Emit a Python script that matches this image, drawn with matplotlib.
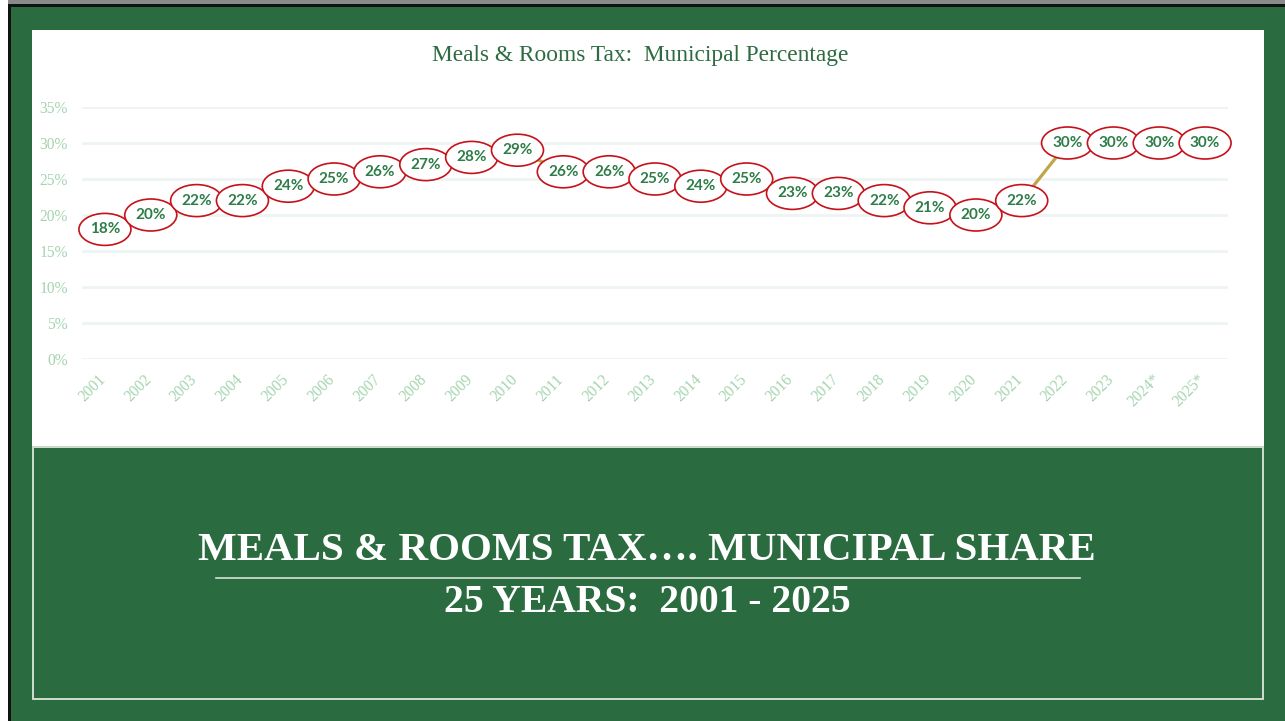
import matplotlib
matplotlib.use("Agg")
import matplotlib.pyplot as plt
from matplotlib.patches import Rectangle, Ellipse
from matplotlib.lines import Line2D
from matplotlib.transforms import ScaledTranslation

# ---- data ----
years = ["2001", "2002", "2003", "2004", "2005", "2006", "2007", "2008", "2009",
         "2010", "2011", "2012", "2013", "2014", "2015", "2016", "2017", "2018",
         "2019", "2020", "2021", "2022", "2023", "2024*", "2025*"]
pct = [18, 20, 22, 22, 24, 25, 26, 27, 28, 29, 26, 26, 25, 24, 25, 23, 23, 22,
       21, 20, 22, 30, 30, 30, 30]
yticks = [0, 5, 10, 15, 20, 25, 30, 35]
chart_title = "Meals & Rooms Tax:  Municipal Percentage"
banner_line1 = "MEALS & ROOMS TAX\u2026. MUNICIPAL SHARE"
banner_line2 = "25 YEARS:  2001 - 2025"

W, H = 1285, 721
GREEN = "#2A6B3F"

fig = plt.figure(figsize=(W / 100, H / 100), dpi=100, facecolor=GREEN)


def fx(x):
    return x / W


def fy(y):
    return 1 - y / H


def rect_px(x0, y0, x1, y1, **kw):
    fig.patches.append(Rectangle((fx(x0), fy(y1)), fx(x1) - fx(x0), fy(y0) - fy(y1),
                                 transform=fig.transFigure, zorder=0, **kw))


# frame pieces
rect_px(0, 0, 8, H, facecolor="white", edgecolor="none")
rect_px(8, 0, 10.5, H, facecolor="#111111", edgecolor="none")
rect_px(8, 0, W, 4, facecolor="#8a8a8a", edgecolor="none")
rect_px(8, 4, W, 7, facecolor="#111111", edgecolor="none")
# white chart panel
rect_px(32, 30, 1264, 446, facecolor="white", edgecolor="none")
# lower outline box
rect_px(33, 447.5, 1263, 699, facecolor="none", edgecolor="#DCE6DC", linewidth=1.3)

# ---- chart ----
ax = fig.add_axes([fx(82), fy(359), fx(1228) - fx(82), fy(107) - fy(359)])
ax.set_zorder(5)
ax.set_facecolor("none")
ax.set_xlim(-0.5, len(years) - 0.5)
ax.set_ylim(0, 35)
for s in ax.spines.values():
    s.set_visible(False)
ax.set_yticks(yticks)
ax.set_yticklabels([f"{v}%" for v in yticks], fontfamily="Liberation Serif",
                   fontsize=11.2, color="#A3D4AE")
ax.set_xticks(range(len(years)))
ax.set_xticklabels(years, rotation=45, ha="right", va="top",
                   fontfamily="Liberation Serif", fontsize=11.2, color="#A3D4AE")
ax.tick_params(axis="both", length=0)
ax.tick_params(axis="y", pad=10)
ax.tick_params(axis="x", pad=9)
shift = ScaledTranslation(4 / 100, 0, fig.dpi_scale_trans)
for lbl in ax.get_xticklabels():
    lbl.set_transform(lbl.get_transform() + shift)
ax.grid(axis="y", color="#EEF4F1", linewidth=2)
ax.set_axisbelow(True)

xs = list(range(len(years)))
ax.plot(xs, pct, color="#BFA64A", linewidth=2.3, zorder=2)

ew = 52 / (45.83)
eh = 32 / 7.2
for x, v in zip(xs, pct):
    ax.add_patch(Ellipse((x, v), ew, eh, facecolor="white", edgecolor="#C5121B",
                         linewidth=1.2, zorder=3, clip_on=False))
    ax.text(x, v, f"{v}%", ha="center", va="center", fontfamily="Lato",
            fontweight="bold", fontsize=11, color="#2E7D48", zorder=4)

fig.text(fx(640), fy(56), chart_title, ha="center", va="center",
         fontfamily="Liberation Serif", fontsize=16.8, color="#2E6B40")

# ---- banner ----
fig.text(fx(647), fy(550), banner_line1, ha="center", va="center",
         fontfamily="Liberation Serif", fontweight="bold", fontsize=29.5, color="white")
fig.lines.append(Line2D([fx(216), fx(1080)], [fy(578), fy(578)],
                        transform=fig.transFigure, color="#D8E2D8", linewidth=1.2))
fig.text(fx(647), fy(602), banner_line2, ha="center", va="center",
         fontfamily="Liberation Serif", fontweight="bold", fontsize=28.5, color="white")

fig.savefig("out.png", dpi=100, facecolor=GREEN)
